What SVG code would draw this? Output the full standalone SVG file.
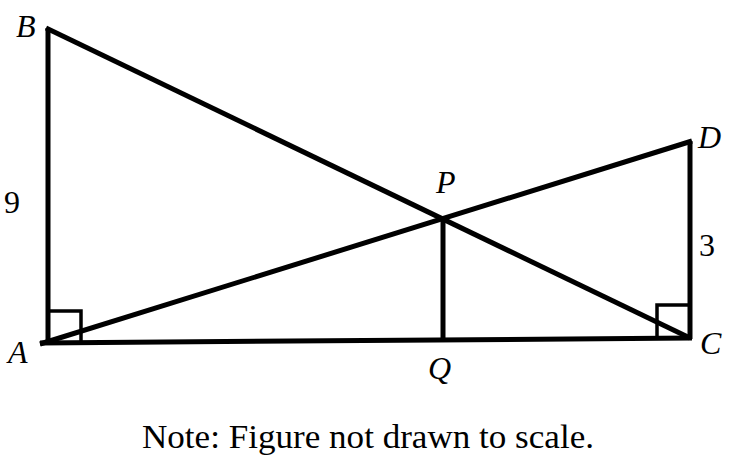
<svg xmlns="http://www.w3.org/2000/svg" width="735" height="473" viewBox="0 0 735 473">
<style>
.ln{stroke:#000;stroke-width:5;fill:none;stroke-linecap:butt;stroke-linejoin:miter}
.sq{stroke:#000;stroke-width:3.5;fill:none}
.lb{font-family:"Liberation Serif","Times New Roman",serif;font-style:italic;font-size:32px;fill:#000}
.nm{font-family:"Liberation Serif","Times New Roman",serif;font-size:32px;fill:#000}
.nt{font-family:"Liberation Serif","Times New Roman",serif;font-size:33px;fill:#000}
</style>
<rect width="735" height="473" fill="#fff"/>
<g id="connectors">
<line class="ln" x1="48" y1="28" x2="48" y2="344"/>
<line class="ln" x1="40" y1="343" x2="692" y2="338"/>
<line class="ln" x1="690" y1="141" x2="690" y2="339"/>
<line class="ln" x1="46" y1="28" x2="690" y2="338"/>
<line class="ln" x1="40" y1="344" x2="692" y2="141"/>
<line class="ln" x1="443" y1="218" x2="443" y2="340"/>
</g>
<g id="right-angle-A"><polyline class="sq" points="48,311 81,311 81,343"/></g>
<g id="right-angle-C"><polyline class="sq" points="657,338 657,305 690,305"/></g>
<g id="label-B"><text class="lb" x="16" y="37">B</text></g>
<g id="label-A"><text class="lb" x="8" y="363">A</text></g>
<g id="label-C"><text class="lb" x="700" y="354">C</text></g>
<g id="label-D"><text class="lb" x="698" y="148">D</text></g>
<g id="label-P"><text class="lb" x="436" y="193">P</text></g>
<g id="label-Q"><text class="lb" x="428" y="379">Q</text></g>
<g id="label-9"><text class="nm" x="4" y="213">9</text></g>
<g id="label-3"><text class="nm" x="699" y="256">3</text></g>
<g id="note"><text class="nt" x="142" y="448" textLength="452" lengthAdjust="spacingAndGlyphs">Note: Figure not drawn to scale.</text></g>
</svg>
